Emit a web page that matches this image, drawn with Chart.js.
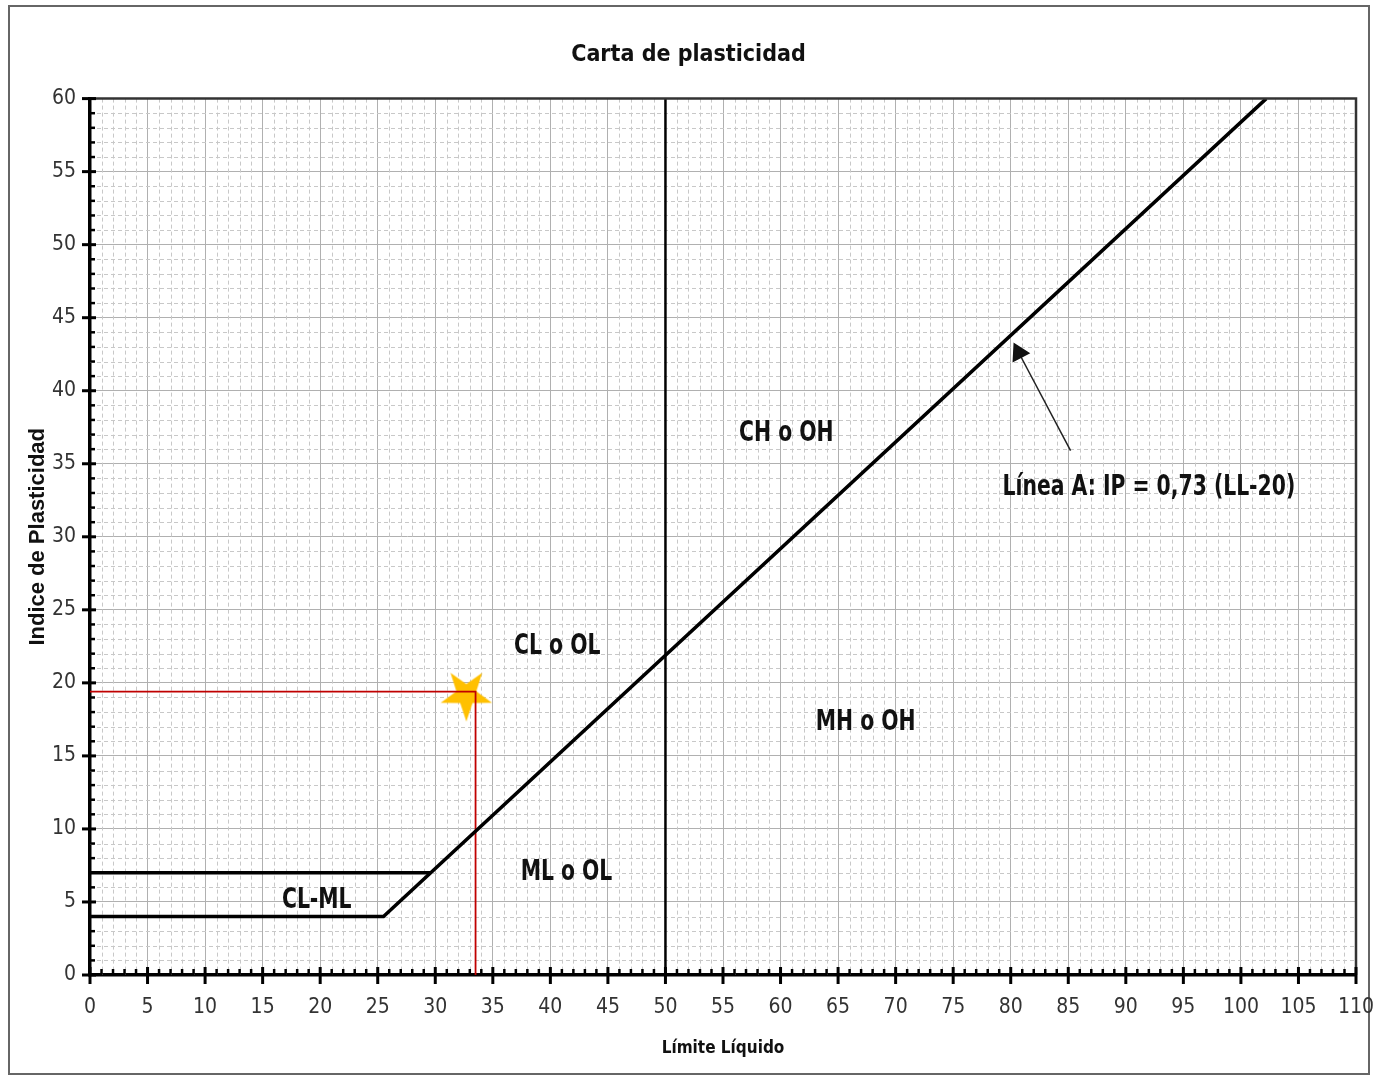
<!DOCTYPE html>
<html lang="es">
<head>
  <meta charset="UTF-8">
  <title>Carta de plasticidad</title>
  <script src="https://cdn.jsdelivr.net/npm/chart.js"></script>
  <style>
    body {
      margin: 0;
      background-color: #fff;
    }

    .wrap {
      position: relative;
      width: 1373px;
      height: 1079px;
      overflow: hidden;
    }

    .frame {
      position: absolute;
      left: 8px;
      top: 5px;
      width: 1362px;
      height: 1070px;
      border: 2px solid #666;
      box-sizing: border-box;
    }

    canvas {
      position: absolute;
      left: 0;
      top: 0;
    }
  </style>
</head>
<body>
  <div class="wrap">
    <div class="frame"></div>
    <canvas id="plasticityChart" width="1385" height="1079"></canvas>
  </div>

  <script>
    // values (LL = límite líquido, IP = índice de plasticidad)
    const aLineLL = [0, 25.5, 102.2];
    const aLineIP = [4, 4, 60];
    const uLineLL = [0, 29.6];
    const uLineIP = [7, 7];
    const dividerLL = [50, 50];
    const dividerIP = [0, 60];
    const sampleLL = [0, 33.5, 33.5];
    const sampleIP = [19.4, 19.4, 0];
    const starLL = [32.7];
    const starIP = [19.2];
    const arrowLL = [85.2, 80.7];
    const arrowIP = [35.9, 42.6];

    const zoneTexts = ['CH o OH', 'Línea A: IP = 0,73 (LL-20)', 'CL o OL', 'MH o OH', 'ML o OL', 'CL-ML'];
    const zoneLL = [60.5, 92.0, 40.6, 67.4, 41.4, 19.7];
    const zoneIP = [37.1, 33.4, 22.5, 17.3, 7.0, 5.1];

    const narrow = "'Liberation Sans Narrow', 'DejaVu Sans Condensed', 'Arial Narrow', sans-serif";

    function toPoints(xs, ys) {
      return xs.map((v, i) => ({ x: v, y: ys[i] }));
    }

    // upside-down gold star used as the point marker
    const star = document.createElement('canvas');
    star.width = 60;
    star.height = 56;
    (function() {
      const c = star.getContext('2d');
      const R = 27, r = 10.5, cx = 30, cy = 28;
      c.beginPath();
      for (let i = 0; i < 10; i++) {
        const rad = i % 2 === 0 ? R : r;
        const ang = Math.PI / 2 + i * Math.PI / 5;
        const px = cx + rad * Math.cos(ang);
        const py = cy + rad * Math.sin(ang);
        if (i === 0) c.moveTo(px, py); else c.lineTo(px, py);
      }
      c.closePath();
      c.fillStyle = '#ffc000';
      c.fill();
    })();

    const decor = {
      id: 'decor',
      beforeDatasetsDraw(chart) {
        const { ctx, chartArea: a, scales: { x, y } } = chart;
        ctx.save();
        ctx.strokeStyle = '#c8c8c8';
        ctx.lineWidth = 1;
        ctx.setLineDash([4, 3]);
        for (let v = 1; v < 110; v++) {
          if (v % 5 === 0) continue;
          const px = Math.round(x.getPixelForValue(v)) + 0.5;
          ctx.beginPath();
          ctx.moveTo(px, a.top);
          ctx.lineTo(px, a.bottom);
          ctx.stroke();
        }
        for (let v = 1; v < 60; v++) {
          if (v % 5 === 0) continue;
          const py = Math.round(y.getPixelForValue(v)) + 0.5;
          ctx.beginPath();
          ctx.moveTo(a.left, py);
          ctx.lineTo(a.right, py);
          ctx.stroke();
        }
        ctx.restore();
      },
      afterDraw(chart) {
        const { ctx, chartArea: a, scales: { x, y } } = chart;
        ctx.save();

        // top and right edges of the plot
        ctx.strokeStyle = '#333';
        ctx.lineWidth = 2.5;
        ctx.beginPath();
        ctx.moveTo(a.left, a.top);
        ctx.lineTo(a.right, a.top);
        ctx.lineTo(a.right, a.bottom);
        ctx.stroke();

        // tick marks on both axes
        ctx.strokeStyle = '#000';
        for (let v = 0; v <= 110; v++) {
          const px = x.getPixelForValue(v);
          ctx.beginPath();
          if (v % 5 === 0) {
            ctx.lineWidth = 3;
            ctx.moveTo(px, a.bottom - 8);
            ctx.lineTo(px, a.bottom + 9);
          } else {
            ctx.lineWidth = 2.5;
            ctx.moveTo(px, a.bottom - 6);
            ctx.lineTo(px, a.bottom);
          }
          ctx.stroke();
        }
        for (let v = 0; v <= 60; v++) {
          const py = y.getPixelForValue(v);
          ctx.beginPath();
          if (v % 5 === 0) {
            ctx.lineWidth = 3;
            ctx.moveTo(a.left - 8, py);
            ctx.lineTo(a.left + 6, py);
          } else {
            ctx.lineWidth = 2.5;
            ctx.moveTo(a.left, py);
            ctx.lineTo(a.left + 5, py);
          }
          ctx.stroke();
        }

        // zone labels, squeezed to look like a narrow face
        ctx.fillStyle = '#111';
        ctx.textAlign = 'center';
        ctx.textBaseline = 'middle';
        ctx.font = 'bold 29px ' + narrow;
        zoneTexts.forEach((t, i) => {
          ctx.save();
          ctx.translate(x.getPixelForValue(zoneLL[i]), y.getPixelForValue(zoneIP[i]));
          ctx.scale(0.78, 1);
          ctx.fillText(t, 0, 0);
          ctx.restore();
        });
        ctx.restore();
      }
    };

    const lineStyle = {
      showLine: true,
      pointRadius: 0,
      tension: 0,
      fill: false
    };

    new Chart(document.getElementById('plasticityChart'), {
      type: 'scatter',
      data: {
        datasets: [
          Object.assign({ data: toPoints(aLineLL, aLineIP), borderColor: '#000', borderWidth: 3.5 }, lineStyle),
          Object.assign({ data: toPoints(uLineLL, uLineIP), borderColor: '#000', borderWidth: 3.5 }, lineStyle),
          Object.assign({ data: toPoints(dividerLL, dividerIP), borderColor: '#000', borderWidth: 2.5 }, lineStyle),
          Object.assign({ data: toPoints(sampleLL, sampleIP), borderColor: '#c00000', borderWidth: 1.8 }, lineStyle),
          Object.assign({}, lineStyle, {
            data: toPoints(arrowLL, arrowIP),
            borderColor: '#222',
            borderWidth: 1.5,
            pointRadius: [0, 10],
            pointStyle: 'triangle',
            pointRotation: -27,
            pointBackgroundColor: '#111',
            pointBorderColor: '#111'
          }),
          {
            data: toPoints(starLL, starIP),
            showLine: false,
            pointStyle: star,
            pointRadius: 28
          }
        ]
      },
      options: {
        responsive: false,
        animation: false,
        layout: {
          padding: { top: 0, left: 10, right: 18, bottom: 0 }
        },
        plugins: {
          legend: { display: false },
          tooltip: { enabled: false },
          title: {
            display: true,
            text: 'Carta de plasticidad',
            color: '#111',
            font: { family: narrow, size: 23, weight: 'bold' },
            padding: { top: 41, bottom: 30 }
          }
        },
        scales: {
          x: {
            type: 'linear',
            min: 0,
            max: 110,
            afterFit(scale) {
              scale.height = 104;
              scale.paddingLeft = 0;
              scale.paddingRight = 0;
            },
            ticks: {
              stepSize: 5,
              color: '#333',
              padding: 20,
              maxRotation: 0,
              font: { family: narrow, size: 21 }
            },
            grid: { color: '#b0b0b0', lineWidth: 1, drawTicks: false },
            border: { color: '#000', width: 3.5 },
            title: {
              display: true,
              text: 'Límite Líquido',
              color: '#111',
              font: { family: narrow, size: 17, weight: 'bold' },
              padding: { top: 0, bottom: 20 }
            }
          },
          y: {
            type: 'linear',
            min: 0,
            max: 60,
            afterFit(scale) { scale.width = 80; },
            ticks: {
              stepSize: 5,
              color: '#333',
              padding: 14,
              font: { family: narrow, size: 21 }
            },
            grid: { color: '#b0b0b0', lineWidth: 1, drawTicks: false },
            border: { color: '#000', width: 3.5 },
            title: {
              display: true,
              text: 'Indice de Plasticidad',
              color: '#111',
              font: { family: "'Liberation Sans', Arial, sans-serif", size: 22, weight: 'bold' },
              padding: { top: 15, bottom: 0 }
            }
          }
        }
      },
      plugins: [decor]
    });
  </script>
</body>
</html>
